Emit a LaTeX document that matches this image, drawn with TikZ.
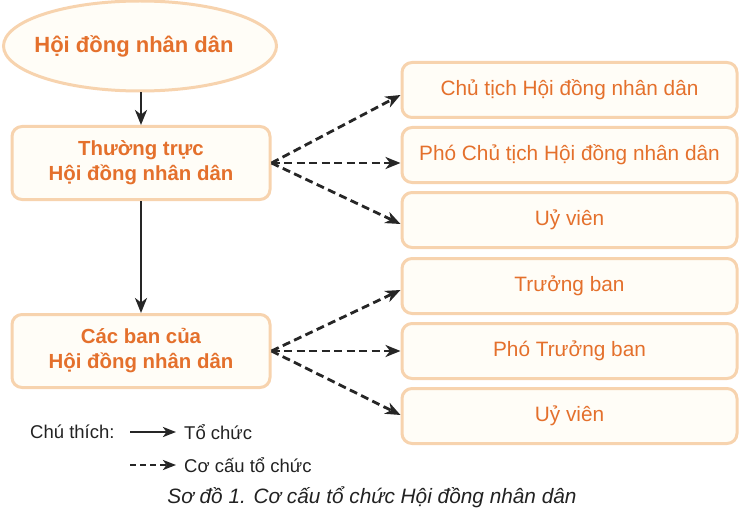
\documentclass[tikz,border=0pt]{standalone}
\usepackage{fontspec}
\setmainfont{Liberation Sans}
\usetikzlibrary{shapes.geometric,arrows.meta,calc}
\definecolor{txtor}{HTML}{E4702C}
\definecolor{bord}{HTML}{F7D3AE}
\definecolor{boxfill}{HTML}{FFFDF7}
\definecolor{arr}{HTML}{262626}
\definecolor{legtxt}{HTML}{222222}
\begin{document}
\begin{tikzpicture}[x=1pt,y=-1pt,
  box/.style={draw=bord, line width=3pt, fill=boxfill, rounded corners=10pt, inner sep=0pt},
  leftbox/.style={box, minimum width=258pt, minimum height=73pt, text=txtor, font=\fontsize{20.4}{25}\selectfont\bfseries, align=center},
  rightbox/.style={box, minimum width=335pt, minimum height=55pt, text=txtor, font=\fontsize{20.8}{24}\selectfont},
  org/.style={draw=arr, line width=2.8pt, -{Stealth[length=15pt,width=12pt,inset=4.5pt]}},
  struct/.style={org, dash pattern=on 8pt off 4.5pt},
  legorg/.style={draw=arr, line width=2.6pt, -{Stealth[length=13pt,width=10pt,inset=3.5pt]}},
  legstruct/.style={legorg, dash pattern=on 6pt off 4pt},
  legtext/.style={anchor=west, inner sep=0pt, text=legtxt, font=\fontsize{18.5}{22}\selectfont},
]
\useasboundingbox (0,0) rectangle (743,513);
\node[ellipse, draw=bord, line width=3pt, fill=boxfill, minimum width=273pt, minimum height=90pt, inner sep=0pt] (hd) at (140,46) {};
\node[text=txtor, inner sep=0pt, font=\fontsize{22}{26}\selectfont\bfseries] (hdt) at (134,46) {Hội đồng nhân dân};
\node[leftbox] (tt) at (141,163) {Thường trực\\Hội đồng nhân dân};
\node[leftbox] (cb) at (141,351) {Các ban của\\Hội đồng nhân dân};

\node[rightbox] (a) at (569.5,90) {\raisebox{-4pt}{Chủ tịch Hội đồng nhân dân}};
\node[rightbox] (b) at (569.5,155) {Phó Chủ tịch Hội đồng nhân dân};
\node[rightbox] (c) at (569.5,220) {Uỷ viên};
\node[rightbox] (d) at (569.5,286) {Trưởng ban};
\node[rightbox] (e) at (569.5,351) {Phó Trưởng ban};
\node[rightbox] (f) at (569.5,416) {\raisebox{-2pt}{Uỷ viên}};

\draw[org] (hd.south -| tt.north) -- (tt.north);
\draw[org] (tt.south) -- (cb.north);

\draw[struct] (tt.east) -- ($(a.west)+(0,5)$);
\draw[struct] (tt.east) -- (tt.east -| b.west);
\draw[struct] (tt.east) -- ($(c.west)+(0,4)$);
\draw[struct] (cb.east) -- ($(d.west)+(0,4)$);
\draw[struct] (cb.east) -- (cb.east -| e.west);
\draw[struct] (cb.east) -- ($(f.west)+(0,-1)$);

\node[legtext] (ct) at (30,432) {Chú thích:};
\coordinate (l1s) at (130,432);
\coordinate (l1e) at (176,432);
\coordinate (l2s) at (130,465);
\coordinate (l2e) at (176,465);
\draw[legorg] (l1s) -- (l1e);
\draw[legstruct] (l2s) -- (l2e);
\node[legtext] (tc) at (184,432) {Tổ chức};
\node[legtext] (cc) at (184,465) {Cơ cấu tổ chức};
\node[text=legtxt, inner sep=0pt, font=\fontsize{20.8}{24}\selectfont\itshape] (cap) at (372,497) {Sơ đồ 1. Cơ cấu tổ chức Hội đồng nhân dân};
\end{tikzpicture}
\end{document}
